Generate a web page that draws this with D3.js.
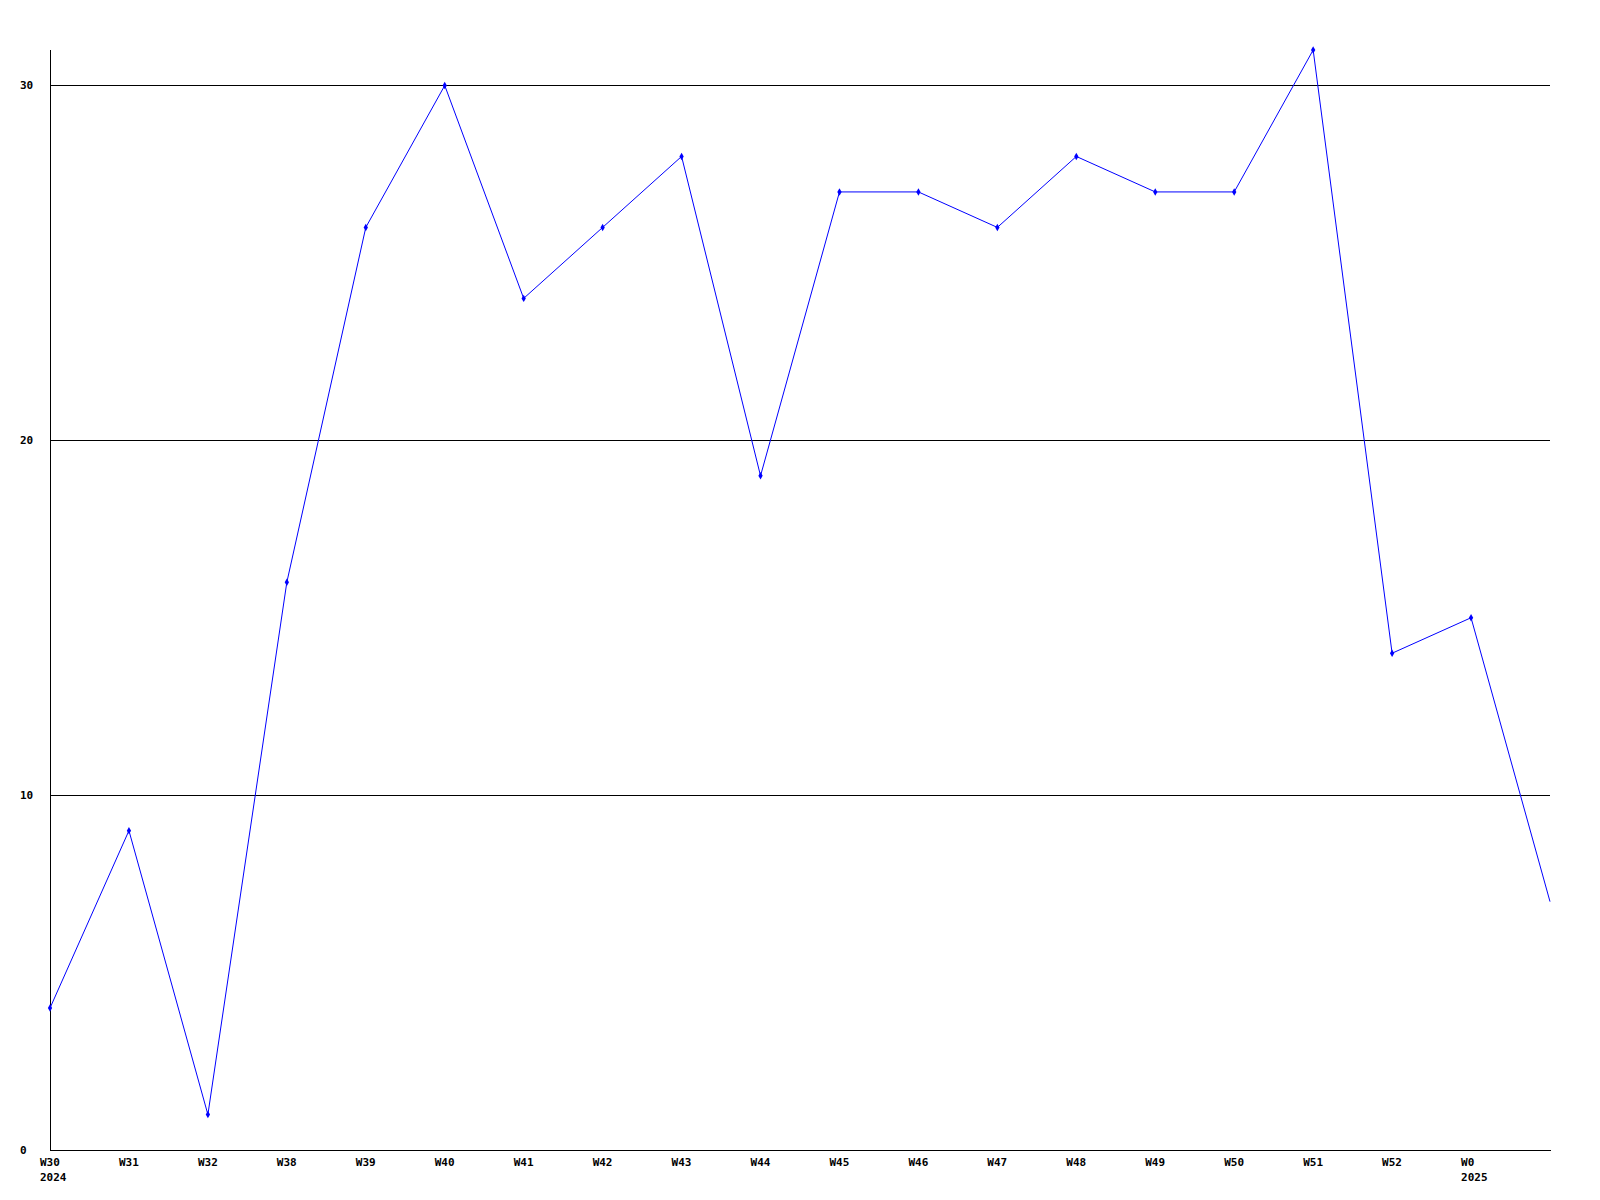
<!DOCTYPE html>
<html>
<head>
<meta charset="utf-8">
<script src="https://cdn.jsdelivr.net/npm/d3@7"></script>
<style>
  html, body { margin: 0; padding: 0; background: #fff; }
  svg text { font-family: "DejaVu Sans Mono", "Liberation Mono", monospace; font-weight: bold; font-size: 11px; fill: #000; }
</style>
</head>
<body>
<svg id="chart" width="1600" height="1200"></svg>
<script>
const weekLabels = ["W30","W31","W32","W38","W39","W40","W41","W42","W43","W44","W45","W46","W47","W48","W49","W50","W51","W52","W0",""];
const yearLabels = ["2024","","","","","","","","","","","","","","","","","","2025",""];
const values = [4, 9, 1, 16, 26, 30, 24, 26, 28, 19, 27, 27, 26, 28, 27, 27, 31, 14, 15, 7];
const yTicks = [0, 10, 20, 30];

(function () {
const svg = d3.select("#chart");
const mLeft = 50, mRight = 1550, mTop = 50, mBottom = 1150;

const x = d3.scaleLinear().domain([0, values.length - 1]).range([mLeft, mRight]);
const y = d3.scaleLinear().domain([0, 31]).range([mBottom, mTop]);

// gridlines
svg.append("g").selectAll("line").data(yTicks.filter(t => t > 0)).join("line")
  .attr("x1", mLeft).attr("x2", mRight)
  .attr("y1", d => Math.round(y(d)) + 0.5).attr("y2", d => Math.round(y(d)) + 0.5)
  .attr("stroke", "#000").attr("stroke-width", 1).attr("shape-rendering", "crispEdges");

// axes lines
svg.append("line").attr("x1", mLeft + 0.5).attr("x2", mLeft + 0.5).attr("y1", mTop).attr("y2", mBottom + 0.5)
  .attr("stroke", "#000").attr("shape-rendering", "crispEdges");
svg.append("line").attr("x1", mLeft).attr("x2", mRight + 1).attr("y1", mBottom + 0.5).attr("y2", mBottom + 0.5)
  .attr("stroke", "#000").attr("shape-rendering", "crispEdges");

// y tick labels
svg.append("g").selectAll("text").data(yTicks).join("text")
  .attr("x", 20).attr("y", d => y(d)).attr("dy", "0.35em")
  .text(d => d);

// x tick labels
const xl = svg.append("g");
xl.selectAll("text.w").data(weekLabels).join("text").attr("class", "w")
  .attr("x", (d, i) => x(i) - 10).attr("y", 1162).attr("dy", "0.35em")
  .text(d => d);
xl.selectAll("text.yr").data(yearLabels).join("text").attr("class", "yr")
  .attr("x", (d, i) => x(i) - 10).attr("y", 1177).attr("dy", "0.35em")
  .text(d => d);

// line
const line = d3.line().x((d, i) => x(i)).y(d => y(d));
svg.append("path").datum(values).attr("d", line)
  .attr("fill", "none").attr("stroke", "#0000ff").attr("stroke-width", 1);

// markers (last point has none)
svg.append("g").selectAll("path").data(values.slice(0, -1)).join("path")
  .attr("transform", (d, i) => `translate(${x(i)},${y(d)})`)
  .attr("d", d3.symbol(d3.symbolDiamond, 16))
  .attr("fill", "#0000ff");
})();
</script>
</body>
</html>
